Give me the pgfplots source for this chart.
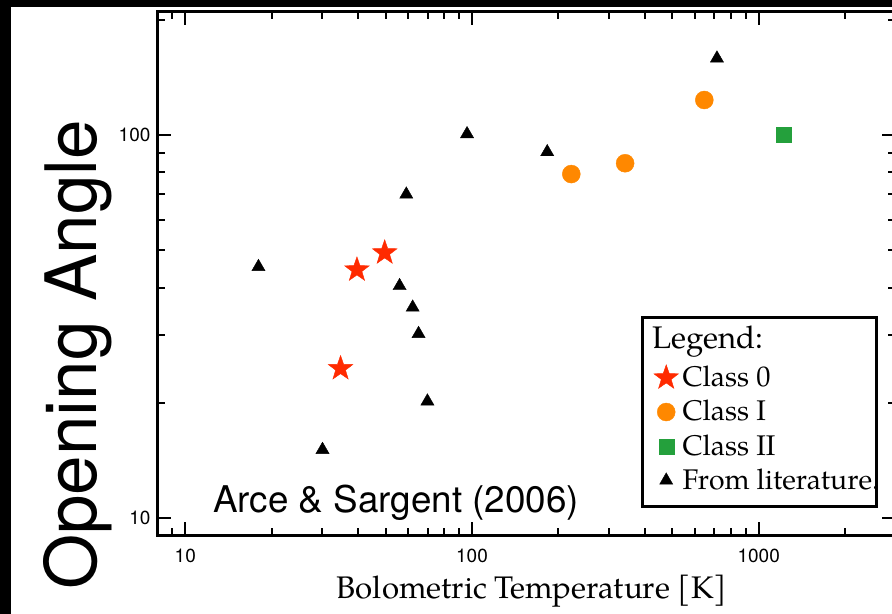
\documentclass[border=0pt]{standalone}
\usepackage{fontspec}
\setmainfont{TeX Gyre Pagella}
\newfontfamily\heros{TeX Gyre Heros}
\usepackage{pgfplots}
\pgfplotsset{compat=1.18}
\definecolor{starred}{RGB}{255,42,0}
\definecolor{circorange}{RGB}{255,136,0}
\definecolor{sqgreen}{RGB}{36,160,60}
\pgfdeclareplotmark{fstar}{%
  \pgfpathmoveto{\pgfpointpolar{90}{\pgfplotmarksize}}%
  \pgfpathlineto{\pgfpointpolar{126}{0.4\pgfplotmarksize}}%
  \pgfpathlineto{\pgfpointpolar{162}{\pgfplotmarksize}}%
  \pgfpathlineto{\pgfpointpolar{198}{0.4\pgfplotmarksize}}%
  \pgfpathlineto{\pgfpointpolar{234}{\pgfplotmarksize}}%
  \pgfpathlineto{\pgfpointpolar{270}{0.4\pgfplotmarksize}}%
  \pgfpathlineto{\pgfpointpolar{306}{\pgfplotmarksize}}%
  \pgfpathlineto{\pgfpointpolar{342}{0.4\pgfplotmarksize}}%
  \pgfpathlineto{\pgfpointpolar{18}{\pgfplotmarksize}}%
  \pgfpathlineto{\pgfpointpolar{54}{0.4\pgfplotmarksize}}%
  \pgfpathclose
  \pgfusepathqfillstroke
}
\begin{document}
\begin{tikzpicture}
\fill[black] (-78.75pt,-39.05pt) rectangle (-73.25pt,267.95pt);
\fill[black] (-78.75pt,264.45pt) rectangle (367.25pt,267.95pt);
\begin{axis}[
  at={(0,0)}, anchor=south west,
  scale only axis, width=369pt, height=262.2pt,
  xmode=log, ymode=log,
  xmin=8, xmax=3000, ymin=9, ymax=210,
  axis line style={line width=1.6pt},
  major tick length=7pt, minor tick length=4pt,
  every tick/.style={black, line width=1pt},
  tick align=inside,
  xtick={10,100,1000}, xticklabels={10,100,1000},
  ytick={10,100}, yticklabels={10,100},
  minor xtick={8,9,20,30,40,50,60,70,80,90,200,300,400,500,600,700,800,900,2000,3000},
  minor ytick={9,20,30,40,50,60,70,80,90,200},
  xticklabel style={font=\heros\fontsize{9.5}{11}\selectfont, yshift=-3pt},
  yticklabel style={font=\heros\fontsize{9.5}{11}\selectfont},
  xlabel={Bolometric Temperature [K]},
  xlabel style={at={(axis description cs:0.5075,0)}, anchor=base, yshift=-31.5pt, font=\fontsize{15.6}{18}\selectfont},
  ylabel={Opening Angle},
  ylabel style={at={(axis description cs:-0.082,0.345)}, anchor=base, font=\heros\fontsize{35.5}{40}\selectfont},
  legend cell align=left,
  legend style={at={(axis description cs:0.6575,0.4168)}, anchor=north west, draw=none, fill=none, font=\fontsize{14.2}{17}\selectfont, row sep=1.3pt},
]
\addlegendimage{empty legend}
\addlegendentry{\hspace{-15pt}\raisebox{2pt}{\fontsize{15.6}{18}\selectfont Legend:}}
\addplot[only marks, mark=fstar, mark size=6.5pt, mark options={fill=starred, draw=starred, line width=0.2pt}] coordinates {
(49.6,49.3) (39.7,44.5) (34.8,24.6)
};
\addlegendentry{Class 0}
\addplot[only marks, mark=*, mark size=4.5pt, mark options={fill=circorange, draw=circorange, line width=0.2pt}] coordinates {
(222,79.1) (342,84.4) (646,123.4)
};
\addlegendentry{Class I}
\addplot[only marks, mark=square*, mark size=3.75pt, mark options={fill=sqgreen, draw=sqgreen, line width=0.2pt}] coordinates {
(1225,100)
};
\addlegendentry{Class II}
\addplot[only marks, mark=triangle*, mark size=3.8pt, mark options={fill=black, draw=black, line width=0.2pt}] coordinates {
(18.0,45.3) (30.1,15.1) (59.0,70.0) (55.9,40.4) (62.1,35.5) (65.1,30.3) (69.9,20.2) (96.1,100.6) (183,90.3) (715,158.5)
};
\addlegendentry{From literature.}
\node[anchor=base, font=\heros\fontsize{18.4}{22}\selectfont] at (rel axis cs:0.3232,0.0437) {Arce \& Sargent (2006)};
\end{axis}
\draw[line width=1.5pt] (242.6pt,14.6pt) rectangle (359.6pt,109.3pt);
\pgfresetboundingbox
\useasboundingbox (-78.75pt,-39.05pt) rectangle (367.25pt,267.95pt);
\end{tikzpicture}
\end{document}
